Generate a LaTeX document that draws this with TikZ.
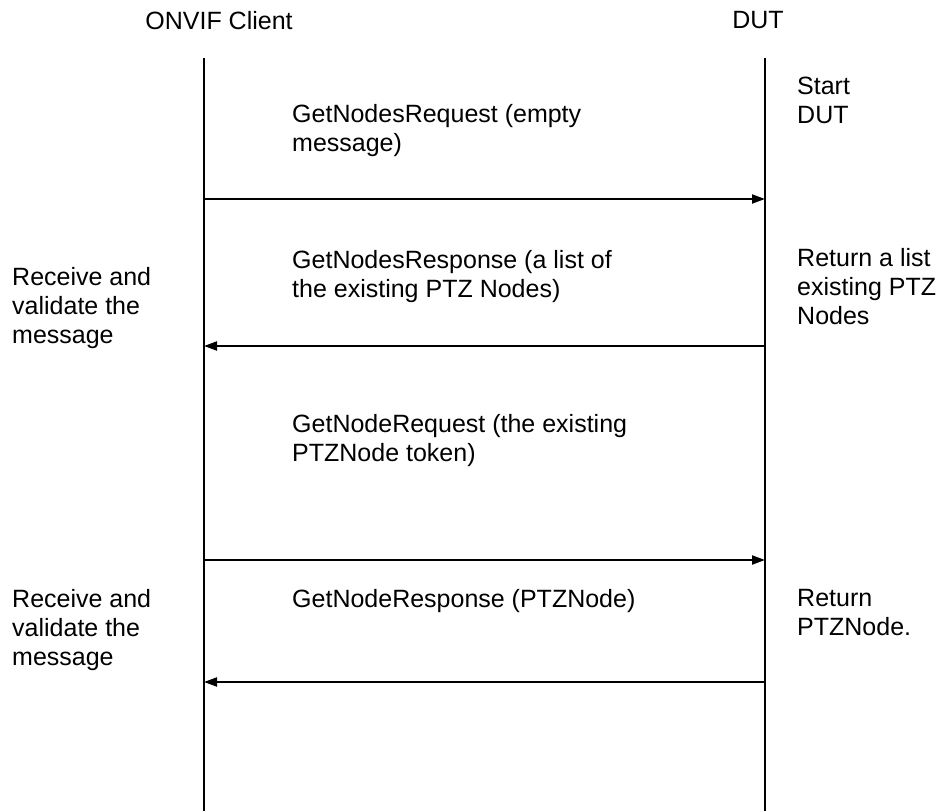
\documentclass[tikz,border=0pt]{standalone}
\usepackage{fontspec}
\setmainfont{Liberation Sans}
\usetikzlibrary{arrows.meta, positioning}

\begin{document}
\begin{tikzpicture}[x=1pt, y=-1pt, >={Triangle[length=13pt, width=9pt]},
  txt/.style={font=\fontsize{25}{29}\selectfont, align=left, inner sep=0pt, anchor=north west},
  lane/.style={line width=1.6pt},
  msg/.style={->, line width=2pt}]
\useasboundingbox (0,0) rectangle (949,811);
% headers
\node[txt, anchor=base] (client) at (219,29) {ONVIF Client};
\node[txt, anchor=base] (dut) at (758,28) {DUT};
% lifelines
\coordinate (C0) at (204,58); \coordinate (C1) at (204,811);
\coordinate (D0) at (765,58); \coordinate (D1) at (765,811);
\draw[lane] (C0) -- (C1);
\draw[lane] (D0) -- (D1);
% message heights
\coordinate (y1) at (0,199); \coordinate (y2) at (0,346);
\coordinate (y3) at (0,560); \coordinate (y4) at (0,682);
% texts
\node[txt] (start) at (797,77) {Start\\DUT};
\node[txt] (req1) at (292,104) {GetNodesRequest (empty\\message)};
\node[txt] (res1) at (292,250) {GetNodesResponse (a list of\\the existing PTZ Nodes)};
\node[txt] (ret1) at (797,248) {Return a list\\existing PTZ\\Nodes};
\node[txt] (chk1) at (12,267) {Receive and\\validate the\\message};
\node[txt] (req2) at (292,414) {GetNodeRequest (the existing\\PTZNode token)};
\node[txt] (res2) at (292,589) {GetNodeResponse (PTZNode)};
\node[txt] (ret2) at (797,589) {Return\\PTZNode.};
\node[txt] (chk2) at (12,589) {Receive and\\validate the\\message};
% messages
\draw[msg] (C0 |- y1) -- (D0 |- y1);
\draw[msg] (D0 |- y2) -- (C0 |- y2);
\draw[msg] (C0 |- y3) -- (D0 |- y3);
\draw[msg] (D0 |- y4) -- (C0 |- y4);
\end{tikzpicture}
\end{document}
